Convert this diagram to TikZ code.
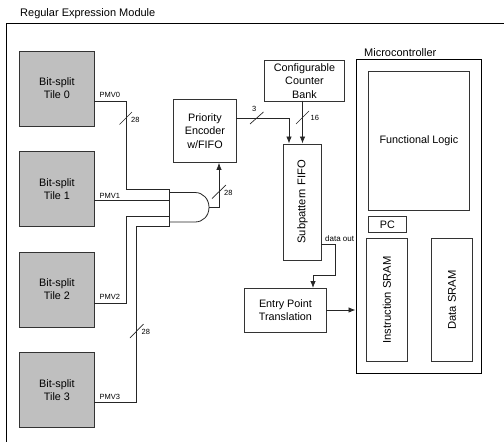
\documentclass[tikz,border=0pt]{standalone}
\usepackage{fontspec}
\setmainfont{Liberation Sans}
\usetikzlibrary{arrows.meta}
\tikzset{
  x=1pt,y=-1pt,
  wire/.style={draw=black!85,line width=0.8pt},
  arrowwire/.style={wire,-{Latex[length=7pt,width=5.5pt]}},
  box/.style={draw=black!80,line width=0.9pt,fill=white,anchor=north west,inner sep=0pt,align=center,font=\fontsize{10.8}{13.2}\selectfont},
  tile/.style={box,fill=black!25,minimum width=75pt,minimum height=75pt},
  lab/.style={inner sep=0pt,font=\fontsize{11}{12}\selectfont},
  small/.style={inner sep=0pt,font=\fontsize{7.5}{8}\selectfont},
  tick/.style={draw=black!85,line width=0.7pt},
  frame/.style={draw=black,line width=0.9pt}
}
\begin{document}
\begin{tikzpicture}
\useasboundingbox (0,0) rectangle (504,442);
\fill[white] (0,0) rectangle (504,442);
% outer frame
\coordinate (fa) at (6.5,442);
\coordinate (fb) at (6.5,23.5);
\coordinate (fc) at (504,23.5);
\draw[frame] (fa) -- (fb) -- (fc);
\node[lab,anchor=west] (title) at (20,14) {Regular Expression Module};
% tiles
\node[tile] (t0) at (19,50.5) {Bit-split\\Tile 0};
\node[tile] (t1) at (19,151) {Bit-split\\Tile 1};
\node[tile] (t2) at (19,251.5) {Bit-split\\Tile 2};
\node[tile] (t3) at (19,352) {Bit-split\\Tile 3};
% other boxes
\node[box,minimum width=63pt,minimum height=63pt] (pe) at (173,99) {Priority\\Encoder\\w/FIFO};
\node[box,minimum width=80pt,minimum height=41pt] (cc) at (264,60) {Configurable\\Counter\\Bank};
\node[box,minimum width=38pt,minimum height=116pt] (sf) at (283,143.5) {};
\node[lab,rotate=90] (sft) at (sf.center) {\fontsize{11.2}{12}\selectfont Subpattern FIFO};
\node[box,minimum width=82pt,minimum height=44pt] (ep) at (244,288) {Entry Point\\Translation};
\node[box,draw=black,minimum width=125.5pt,minimum height=314pt] (mc) at (355.5,59) {};
\node[lab,anchor=west] (mct) at (364,53) {Microcontroller};
\node[box,minimum width=101pt,minimum height=139pt] (fl) at (368,71) {Functional Logic};
\node[box,minimum width=38pt,minimum height=16pt] (pc) at (368,216) {PC};
\node[box,minimum width=41pt,minimum height=123pt] (is) at (366,238) {};
\node[lab,rotate=90] (ist) at (is.center) {\fontsize{11.2}{12}\selectfont Instruction SRAM};
\node[box,minimum width=41pt,minimum height=123pt] (ds) at (431,238) {};
\node[lab,rotate=90] (dst) at (ds.center) {\fontsize{11.2}{12}\selectfont Data SRAM};
% gate
\coordinate (gtl) at (169.5,189);
\coordinate (gbl) at (169.5,226);
\coordinate (gt) at (169.5,192.5);
\coordinate (gb) at (169.5,222);
\coordinate (gout) at (209,207.3);
\draw[wire,fill=white] (gtl) -- (gbl);
\draw[wire] (gt) -- (195,192.5) .. controls (203,192.5) and (209,199) .. (gout) .. controls (209,216) and (203,222) .. (195,222) -- (gb);
% connectors
\coordinate (a0) at (94,101); \coordinate (b0) at (126,101); \coordinate (c0) at (126,189);
\draw[wire] (a0) -- (b0) -- (c0) -- (gtl);
\coordinate (a1) at (94,200.5); \coordinate (g1) at (169.5,200.5);
\draw[wire] (a1) -- (g1);
\coordinate (a2) at (94,303); \coordinate (b2) at (126,303); \coordinate (c2) at (126,216); \coordinate (g2) at (169.5,216);
\draw[wire] (a2) -- (b2) -- (c2) -- (g2);
\coordinate (a3) at (94,402.5); \coordinate (b3) at (136,402.5); \coordinate (c3) at (136,226);
\draw[wire] (a3) -- (b3) -- (c3) -- (gbl);
\coordinate (o1) at (219,207.3);
\draw[arrowwire] (gout) -- (o1) -- (o1 |- pe.south);
\coordinate (pea) at (236,118); \coordinate (peb) at (289,118);
\draw[arrowwire] (pea) -- (peb) -- (peb |- sf.north);
\coordinate (cca) at (302.5,100.5);
\draw[arrowwire] (cca) -- (cca |- sf.north);
\coordinate (d0) at (321,244); \coordinate (d1) at (335,244); \coordinate (d2) at (335,275); \coordinate (d3) at (313,275);
\draw[arrowwire] (d0) -- (d1) -- (d2) -- (d3) -- (d3 |- ep.north);
\coordinate (e0) at (326,310);
\draw[arrowwire] (e0) -- (e0 -| mc.west);
% bus ticks
\coordinate (k0a) at (119.5,124.5); \coordinate (k0b) at (132,112);
\draw[tick] (k0a) -- (k0b);
\coordinate (k1a) at (212,198.5); \coordinate (k1b) at (226,185);
\draw[tick] (k1a) -- (k1b);
\coordinate (k2a) at (130,338); \coordinate (k2b) at (143.5,324);
\draw[tick] (k2a) -- (k2b);
\coordinate (k3a) at (250,124); \coordinate (k3b) at (263.5,112);
\draw[tick] (k3a) -- (k3b);
\coordinate (k4a) at (296,124); \coordinate (k4b) at (309,111);
\draw[tick] (k4a) -- (k4b);
% small labels
\node[small,anchor=west] (l0) at (99.5,95) {PMV0};
\node[small,anchor=west] (l1) at (99.5,196) {PMV1};
\node[small,anchor=west] (l2) at (99.5,297) {PMV2};
\node[small,anchor=west] (l3) at (99.5,397) {PMV3};
\node[small,anchor=west] (w0) at (131,119.5) {28};
\node[small,anchor=west] (w1) at (224,193) {28};
\node[small,anchor=west] (w2) at (141.5,332) {28};
\node[small,anchor=west] (w3) at (252,109) {3};
\node[small,anchor=west] (w4) at (310.5,118) {16};
\node[small,anchor=west,font=\fontsize{8}{9}\selectfont] (w5) at (325,239) {data out};
\end{tikzpicture}
\end{document}
